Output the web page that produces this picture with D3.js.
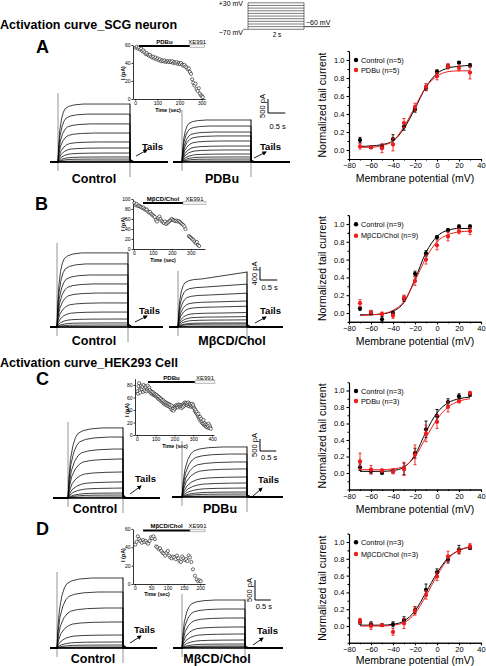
<!DOCTYPE html>
<html><head><meta charset="utf-8">
<script src="https://cdn.jsdelivr.net/npm/d3@7"></script>
<style>body{margin:0;background:#fff;}svg{display:block;font-family:"Liberation Sans",Arial,sans-serif;}</style>
</head><body><script>
// ---------------- DATA ----------------
const protocolSteps = [-70,-60,-50,-40,-30,-20,-10,0,10,20,30];
const holdingMv = -70, tailMv = -60;
const voltages = [-70,-60,-50,-40,-30,-20,-10,0,10,20,30];
const xTicks = [-80,-60,-40,-20,0,20,40];
const xMinor = [-70,-50,-30,-10,10,30];
const yTicks = [0,0.2,0.4,0.6,0.8,1.0];

// Panel A (SCG, PDBu)
const aCtrl    = [0.11,0.03,0.03,0.12,0.26,0.45,0.69,0.87,0.93,0.97,0.94];
const aCtrlErr = [0.03,0.01,0.02,0.05,0.04,0.03,0.03,0.02,0.02,0.01,0.02];
const aPdbu    = [0.04,0.03,0.02,0.06,0.30,0.48,0.70,0.82,0.93,0.91,0.86];
const aPdbuErr = [0.03,0.01,0.05,0.07,0.05,0.04,0.04,0.04,0.03,0.03,0.07];
const aCtrlFit = [0.04,0.045,0.06,0.10,0.24,0.46,0.70,0.85,0.91,0.93,0.94];
const aPdbuFit = [0.03,0.03,0.05,0.10,0.26,0.48,0.70,0.82,0.87,0.88,0.88];
// Panel B (SCG, MbCD/Chol)
const bCtrl    = [0.05,0.00,-0.07,0.00,0.16,0.44,0.67,0.85,0.93,0.97,0.97];
const bCtrlErr = [0.02,0.02,0.03,0.02,0.03,0.03,0.03,0.02,0.02,0.02,0.02];
const bMbcd    = [0.11,0.01,-0.01,-0.03,0.17,0.36,0.60,0.76,0.86,0.92,0.92];
const bMbcdErr = [0.04,0.02,0.02,0.03,0.03,0.05,0.05,0.05,0.05,0.03,0.04];
const bCtrlFit = [-0.02,-0.02,-0.01,0.02,0.12,0.38,0.68,0.86,0.93,0.95,0.95];
const bMbcdFit = [-0.03,-0.02,-0.01,0.03,0.13,0.36,0.62,0.80,0.88,0.91,0.92];
// Panel C (HEK293, PDBu)
const cCtrl    = [0.07,0.02,0.00,0.02,0.05,0.24,0.53,0.69,0.86,0.93,0.95];
const cCtrlErr = [0.04,0.03,0.01,0.02,0.07,0.06,0.10,0.08,0.04,0.03,0.02];
const cPdbu    = [0.14,0.04,0.03,0.02,0.05,0.22,0.48,0.62,0.80,0.87,0.97];
const cPdbuErr = [0.10,0.05,0.02,0.03,0.08,0.12,0.10,0.08,0.06,0.02,0.02];
const cCtrlFit = [0.02,0.02,0.02,0.03,0.07,0.22,0.50,0.73,0.85,0.90,0.92];
const cPdbuFit = [0.04,0.04,0.04,0.05,0.08,0.20,0.43,0.65,0.80,0.87,0.90];
// Panel D (HEK293, MbCD/Chol)
const dCtrl    = [0.05,0.02,0.01,0.02,0.07,0.19,0.43,0.64,0.79,0.91,0.93];
const dCtrlErr = [0.03,0.03,0.01,0.03,0.04,0.04,0.07,0.04,0.04,0.05,0.02];
const dMbcd    = [0.06,0.00,0.01,-0.07,0.03,0.18,0.37,0.59,0.83,0.89,0.95];
const dMbcdErr = [0.03,0.04,0.01,0.04,0.06,0.05,0.05,0.05,0.06,0.03,0.03];
const dCtrlFit = [0.01,0.01,0.01,0.02,0.06,0.18,0.40,0.63,0.81,0.90,0.94];
const dMbcdFit = [0.00,0.00,0.00,0.01,0.04,0.15,0.36,0.60,0.80,0.90,0.94];

const legendA = ["Control (n=5)","PDBu (n=5)"];
const legendB = ["Control (n=9)","M\u03B2CD/Chol (n=9)"];
const legendC = ["Control (n=3)","PDBu (n=3)"];
const legendD = ["Control (n=3)","M\u03B2CD/Chol (n=3)"];

// Current traces: steady-state amplitude of each sweep (pA)
const aCtrlTraces = [2070,1710,1360,1035,715,500,320,180,105,35,0];
const aPdbuTraces = [1500,1285,1070,930,750,570,430,285,180,105,35];
const bCtrlTraces = [2280,1940,1600,1325,1045,740,460,245,125,60,0];
const bMbcdTraces = [1480,1230,985,770,615,430,310,215,125,90,30];
const bMbcdLate   = [1690,1320,1040,800,640,445,320,220,125,90,30];
const cCtrlTraces = [2920,2540,2040,1625,1085,670,415,210,125,40];
const cPdbuTraces = [2085,1790,1460,1170,835,585,375,210,125,40];
const dCtrlTraces = [1750,1400,1000,650,325,150,75,25,0];
const dMbcdTraces = [1200,975,750,525,350,200,100,50,25];
// normalized activation time course (s, fraction) and tail decay
const activationShape = [[0,0],[0.02,0.3],[0.05,0.55],[0.1,0.75],[0.15,0.86],[0.2,0.92],[0.3,0.96],[0.45,0.985],[0.7,1]];
const tailShape = [[0,0.06],[0.04,0.03],[0.1,0.01],[0.25,0]];

// Time courses (sec, pA)
const aTime = [[2,57],[7,58],[12,56],[17,57],[22,55],[27,56],[32,53],[37,54],[42,52],[47,50],[52,51],[57,49],[62,48],[67,49],[72,47],[77,46],[82,47],[87,45],[92,46],[97,44],[102,45],[107,43],[112,44],[117,42],[122,43],[127,42],[132,43],[137,41],[142,42],[147,42],[152,41],[157,42],[162,41],[167,42],[172,40],[177,41],[182,40],[187,41],[192,39],[197,40],[202,39],[207,40],[212,38],[217,37],[222,38],[227,36],[232,35],[237,33],[242,34],[247,30],[252,28],[257,22],[262,18],[267,15],[272,17],[277,11],[282,9],[287,12],[292,6],[297,4],[302,3],[305,2]];
const bTime = [[2,92],[8,88],[14,90],[20,86],[26,87],[32,85],[38,84],[44,82],[50,83],[56,80],[62,78],[68,79],[74,75],[80,73],[86,74],[92,70],[98,68],[104,66],[110,64],[116,58],[122,55],[128,62],[134,65],[140,60],[146,56],[152,54],[158,52],[164,55],[170,50],[176,52],[182,54],[188,56],[194,58],[200,60],[206,58],[212,57],[218,56],[224,57],[230,55],[236,56],[242,54],[248,52],[254,50],[260,48],[266,45],[272,40],[290,26],[296,24],[302,22],[308,20],[314,18],[320,15],[326,12],[332,14],[338,8],[344,6]];
const cTime = [[3,70],[6,66],[9,78],[12,83],[15,72],[18,68],[21,75],[24,79],[27,73],[30,77],[33,69],[36,80],[39,74],[42,71],[45,78],[48,76],[51,70],[54,73],[57,79],[60,74],[63,71],[66,76],[69,72],[72,68],[75,70],[78,66],[81,69],[84,65],[87,68],[90,64],[93,66],[96,63],[99,65],[102,62],[105,64],[108,60],[111,62],[114,58],[117,61],[120,57],[123,59],[126,55],[129,58],[132,54],[135,56],[138,52],[141,55],[144,50],[147,53],[150,49],[153,52],[156,48],[159,51],[162,47],[165,50],[168,46],[171,49],[174,45],[177,48],[180,44],[183,41],[186,47],[189,40],[192,43],[195,39],[198,45],[201,42],[204,46],[207,44],[210,48],[213,45],[216,47],[219,44],[222,49],[225,46],[228,48],[231,45],[234,47],[237,43],[240,46],[243,48],[246,45],[249,50],[252,47],[255,52],[258,49],[261,51],[264,48],[267,50],[270,47],[273,52],[276,49],[279,46],[282,50],[285,48],[288,45],[291,47],[294,50],[297,46],[300,48],[303,44],[306,42],[309,38],[312,40],[315,35],[318,37],[321,33],[324,30],[327,34],[330,28],[333,25],[336,29],[339,23],[342,26],[345,20],[348,22],[351,18],[354,24],[357,16],[360,19],[363,15],[366,17],[369,13],[372,16],[375,12],[378,14],[381,18],[384,11],[387,15],[390,12],[393,10]];
const dTime = [[1,43],[5,46],[9,52],[13,49],[17,47],[21,45],[25,48],[29,46],[33,47],[37,45],[41,44],[45,47],[49,51],[53,50],[57,52],[61,49],[65,41],[69,40],[73,38],[77,39],[81,36],[85,34],[89,33],[93,31],[97,34],[101,36],[105,31],[109,29],[113,28],[117,30],[121,29],[125,27],[129,31],[133,28],[137,25],[141,24],[145,30],[149,28],[153,26],[157,27],[161,25],[165,31],[169,29],[173,24],[178,16],[184,9],[190,5],[194,3],[198,4],[202,3]];
const aDrug = [17,247], aXE = [247,312];
const bDrug = [48,259], bXE = [259,380];
const cDrug = [59,309], cXE = [309,415];
const dDrug = [25,169], dXE = [169,215];

// ---------------- DRAW ----------------
const RED = "#ee1c1c";
const svg = d3.select("body").append("svg").attr("width",486).attr("height",666);

function txt(x,y,s,o={}){
  const t = svg.append("text").attr("x",x).attr("y",y).text(s)
    .attr("font-size",o.size||10).attr("font-weight",o.bold?"bold":"normal")
    .attr("text-anchor",o.anchor||"start").attr("fill",o.fill||"#000");
  if(o.mid) t.attr("dominant-baseline","central");
  if(o.rotate) t.attr("transform",`rotate(-90,${x},${y})`);
  return t;
}

// titles and letters
txt(0,28.5,"Activation curve_SCG neuron",{size:12.5,bold:true});
txt(0,367,"Activation curve_HEK293 Cell",{size:12.5,bold:true});
txt(36,53,"A",{size:18,bold:true});
txt(35,210,"B",{size:18,bold:true});
txt(36,385,"C",{size:18,bold:true});
txt(36,535,"D",{size:18,bold:true});

// protocol
(function(){
  const py = d3.scaleLinear().domain([-70,30]).range([29.3,2.8]);
  const x0=248,x1=304;
  const g = svg.append("g").attr("stroke","#444").attr("stroke-width",0.7).attr("fill","none");
  protocolSteps.forEach(v=>g.append("line").attr("x1",x0).attr("x2",x1).attr("y1",py(v)).attr("y2",py(v)));
  [x0,x1].forEach(xx=>g.append("line").attr("x1",xx).attr("x2",xx).attr("y1",py(d3.min(protocolSteps))).attr("y2",py(d3.max(protocolSteps))));
  g.append("line").attr("x1",243).attr("x2",x0).attr("y1",py(holdingMv)).attr("y2",py(holdingMv));
  g.append("line").attr("x1",x1).attr("x2",330).attr("y1",py(tailMv)).attr("y2",py(tailMv)).attr("stroke-width",1);
  txt(243,3.5,"+30 mV",{size:7,anchor:"end",mid:true});
  txt(243,32.5,"\u221270 mV",{size:7,anchor:"end",mid:true});
  txt(306,22.5,"\u221260 mV",{size:7,mid:true});
  txt(277,34.5,"2 s",{size:6.5,anchor:"middle",mid:true});
})();

// activation charts
function actChart(o){
  const x = d3.scaleLinear().domain([-80,40]).range([349,481]);
  const y = d3.scaleLinear().domain(o.yd).range(o.yr);
  const g = svg.append("g");
  const styleAxis = sel=>{sel.selectAll("path,line").attr("stroke","#000").attr("stroke-width",1.1);
    sel.selectAll("text").attr("font-size",7.5).attr("fill","#000");
    sel.attr("font-family",null).attr("font-size",null);};
  g.append("g").attr("transform",`translate(0,${o.yr[0]})`)
    .call(d3.axisBottom(x).tickValues(xTicks).tickSize(2.5).tickSizeOuter(0).tickPadding(1.5)).call(styleAxis);
  g.append("g").attr("transform",`translate(0,${o.yr[0]})`)
    .call(d3.axisBottom(x).tickValues(xMinor).tickSize(1.5).tickSizeOuter(0).tickFormat("")).call(styleAxis);
  g.append("g").attr("transform",`translate(349,0)`)
    .call(d3.axisLeft(y).tickValues(yTicks).tickSize(2.5).tickSizeOuter(0).tickPadding(2).tickFormat(d3.format(".1f"))).call(styleAxis);
  g.append("g").attr("transform",`translate(349,0)`)
    .call(d3.axisLeft(y).tickValues(o.yMinor).tickSize(1.5).tickSizeOuter(0).tickFormat("")).call(styleAxis);
  const line = d3.line().x((d,i)=>x(voltages[i])).y(d=>y(d)).curve(d3.curveMonotoneX);
  g.append("path").attr("d",line(o.fit0)).attr("fill","none").attr("stroke","#000").attr("stroke-width",1);
  g.append("path").attr("d",line(o.fit1)).attr("fill","none").attr("stroke",RED).attr("stroke-width",1);
  [[o.d0,o.e0,"#000"],[o.d1,o.e1,RED]].forEach(([d,e,c])=>{
    d.forEach((v,i)=>{
      const xx=x(voltages[i]);
      g.append("line").attr("x1",xx).attr("x2",xx).attr("y1",y(v-e[i])).attr("y2",y(v+e[i])).attr("stroke",c).attr("stroke-width",0.9);
      [v-e[i],v+e[i]].forEach(w=>g.append("line").attr("x1",xx-1.5).attr("x2",xx+1.5).attr("y1",y(w)).attr("y2",y(w)).attr("stroke",c).attr("stroke-width",0.9));
      g.append("circle").attr("cx",xx).attr("cy",y(v)).attr("r",2.1).attr("fill",c);
    });
  });
  // legend
  [["#000",o.leg[0],o.legY[0]],[RED,o.leg[1],o.legY[1]]].forEach(([c,s,yy])=>{
    g.append("circle").attr("cx",356).attr("cy",yy).attr("r",2.2).attr("fill",c);
    txt(361,yy,s,{size:7.3,mid:true});
  });
  txt(415,o.yr[0]+o.tdy,"Membrane potential (mV)",{size:10.5,anchor:"middle",mid:true});
  txt(322,(o.yr[0]+o.yr[1])/2,"Normalized tail current",{size:10.5,anchor:"middle",mid:true,rotate:true});
}
actChart({yd:[-0.1,1.1],yr:[159,51],tdy:19,yMinor:[-0.1,0.1,0.3,0.5,0.7,0.9,1.1],d0:aCtrl,e0:aCtrlErr,d1:aPdbu,e1:aPdbuErr,fit0:aCtrlFit,fit1:aPdbuFit,leg:legendA,legY:[60,70]});
actChart({yd:[-0.1,1.1],yr:[321.9,215.1],tdy:19,yMinor:[-0.1,0.1,0.3,0.5,0.7,0.9,1.1],d0:bCtrl,e0:bCtrlErr,d1:bMbcd,e1:bMbcdErr,fit0:bCtrlFit,fit1:bMbcdFit,leg:legendB,legY:[224.3,235.7]});
actChart({yd:[-0.2,1.1],yr:[489.5,382.25],tdy:19,yMinor:[-0.2,-0.1,0.1,0.3,0.5,0.7,0.9,1.1],d0:cCtrl,e0:cCtrlErr,d1:cPdbu,e1:cPdbuErr,fit0:cCtrlFit,fit1:cPdbuFit,leg:legendC,legY:[391,401]});
actChart({yd:[-0.2,1.1],yr:[642.8,533.6],tdy:16.8,yMinor:[-0.2,-0.1,0.1,0.3,0.5,0.7,0.9,1.1],d0:dCtrl,e0:dCtrlErr,d1:dMbcd,e1:dMbcdErr,fit0:dCtrlFit,fit1:dMbcdFit,leg:legendD,legY:[542.3,554]});

// inset time courses
function inset(o){
  const x = d3.scaleLinear().domain(o.xd).range(o.xr);
  const y = d3.scaleLinear().domain(o.yd).range(o.yr);
  const g = svg.append("g");
  const st = sel=>{sel.selectAll("path,line").attr("stroke","#000").attr("stroke-width",0.8);
    sel.selectAll("text").attr("font-size",5).attr("fill","#000");sel.attr("font-family",null).attr("font-size",null);};
  g.append("g").attr("transform",`translate(0,${o.yr[0]})`)
    .call(d3.axisBottom(x).tickValues(o.xt).tickSize(1.5).tickSizeOuter(0).tickPadding(1).tickFormat(d3.format("d"))).call(st);
  g.append("g").attr("transform",`translate(${o.xr[0]},0)`)
    .call(d3.axisLeft(y).tickValues(o.yt).tickSize(1.5).tickSizeOuter(0).tickPadding(1).tickFormat(d3.format("d"))).call(st);
  o.data.forEach(([t,v])=>g.append("circle").attr("cx",x(t)).attr("cy",y(v)).attr("r",1.6)
    .attr("fill","#fff").attr("stroke","#000").attr("stroke-width",0.55));
  g.append("rect").attr("x",x(o.drug[0])).attr("y",o.barY-1).attr("width",x(o.drug[1])-x(o.drug[0])).attr("height",2).attr("fill","#000");
  g.append("rect").attr("x",x(o.xe[0])).attr("y",o.barY-1.3).attr("width",x(o.xe[1])-x(o.xe[0])).attr("height",2.6)
    .attr("fill","#f2f2f2").attr("stroke","#999").attr("stroke-width",0.6);
  txt((x(o.drug[0])+x(o.drug[1]))/2,o.barY-4.5,o.drugName,{size:6,bold:true,anchor:"middle",mid:true});
  txt((x(o.xe[0])+x(o.xe[1]))/2,o.barY-4.5,"XE991",{size:6,anchor:"middle",mid:true});
  txt(o.tl[0],o.tl[1],"Time (sec)",{size:5.2,bold:true,anchor:"middle",mid:true});
  txt(o.il[0],o.il[1],"I (pA)",{size:5.4,bold:true,anchor:"middle",mid:true,rotate:true});
}
inset({xd:[-10,315],xr:[133,205],yd:[0,60],yr:[99,45],xt:[0,100,200,300],yt:[0,20,40,60],data:aTime,drug:aDrug,xe:aXE,barY:46,drugName:"PDBu",tl:[168,109.5],il:[123,73]});
inset({xd:[-5,375],xr:[133,205],yd:[0,100],yr:[249,199],xt:[0,100,200,300],yt:[0,20,40,60,80,100],data:bTime,drug:bDrug,xe:bXE,barY:203,drugName:"M\u03B2CD/Chol",tl:[163,259.5],il:[123,224]});
inset({xd:[-10,410],xr:[135,214],yd:[0,90],yr:[435,378.75],xt:[0,100,200,300,400],yt:[0,20,40,60,80],data:cTime,drug:cDrug,xe:cXE,barY:382,drugName:"PDBu",tl:[175,445.5],il:[127,410]});
inset({xd:[-6,215],xr:[133,205],yd:[0,60],yr:[584,529],xt:[0,50,100,150,200],yt:[0,20,40,60],data:dTime,drug:dDrug,xe:dXE,barY:530.5,drugName:"M\u03B2CD/Chol",tl:[157,593.5],il:[123,555]});

// current trace families
function tracePanel(o){
  const x = d3.scaleLinear().domain([0,2]).range([o.on,o.off]);
  const y = d3.scaleLinear().domain([0,o.barPA]).range([o.base,o.base-o.barPx]);
  const g = svg.append("g");
  const line = d3.line().x(d=>x(d[0])).y(d=>y(d[1]));
  const maxL = d3.max(o.levels), maxLate = d3.max(o.late||o.levels);
  g.append("line").attr("x1",o.on).attr("x2",o.on).attr("y1",y(maxL)-o.tTop).attr("y2",o.base+9).attr("stroke","#888").attr("stroke-width",0.9);
  g.append("line").attr("x1",o.off).attr("x2",o.off).attr("y1",y(maxLate)-1).attr("y2",o.base+15).attr("stroke","#888").attr("stroke-width",0.9);
  const n=o.levels.length;
  o.levels.forEach((L,i)=>{
    const late = o.late? o.late[i] : L;
    const stretch = o.kin*(1+1.5*i/(n-1));
    const pts=[[x.invert(o.left),0],[0,0]];
    activationShape.forEach(([t,f])=>{const tt=t*stretch; if(tt>0 && tt<2) pts.push([tt,L*f]);});
    pts.push([2,late]);
    tailShape.forEach(([t,f])=>pts.push([2+t,late*f]));
    pts.push([x.invert(o.right),0]);
    g.append("path").attr("d",line(pts)).attr("fill","none").attr("stroke","#000").attr("stroke-width",0.75);
  });
  g.append("line").attr("x1",o.left).attr("x2",o.right).attr("y1",o.base).attr("y2",o.base).attr("stroke","#000").attr("stroke-width",1.6);
  txt(o.tails[0],o.tails[1],"Tails",{size:9.5,bold:true});
  g.append("line").attr("x1",o.arrow[0]).attr("y1",o.arrow[1]).attr("x2",o.arrow[2]).attr("y2",o.arrow[3])
    .attr("stroke","#000").attr("stroke-width",0.9).attr("marker-end","url(#ah)");
  txt(o.label[0],o.label[1],o.name,{size:12.5,bold:true,anchor:"middle"});
  return {x,y};
}
svg.append("defs").append("marker").attr("id","ah").attr("viewBox","0 0 10 10").attr("refX",8).attr("refY",5)
  .attr("markerWidth",5).attr("markerHeight",5).attr("orient","auto")
  .append("path").attr("d","M0,0L10,5L0,10z").attr("fill","#000");

function scaleBar(s,o){
  const h = s.y(0)-s.y(o.pa), w = s.x(0.5)-s.x(0);
  const g = svg.append("g").attr("stroke","#000").attr("stroke-width",1);
  g.append("line").attr("x1",o.x).attr("x2",o.x).attr("y1",o.yb-h).attr("y2",o.yb);
  g.append("line").attr("x1",o.x).attr("x2",o.x+w).attr("y1",o.yb).attr("y2",o.yb);
  txt(o.x-6,o.yb-h/2,o.pa+" pA",{size:7.5,anchor:"middle",mid:true,rotate:true});
  txt(o.x+w/2+1,o.yb+o.sdy,"0.5 s",{size:7.5,anchor:"middle",mid:true});
}

// A
tracePanel({on:58,off:130,left:50,right:168,base:162,barPA:500,barPx:14,kin:1,tTop:11,levels:aCtrlTraces,tails:[142,149.5],arrow:[136,156,147,150],label:[94,182.5],name:"Control"});
const sA = tracePanel({on:182,off:251,left:173,right:290,base:162,barPA:500,barPx:14,kin:1,tTop:10,levels:aPdbuTraces,tails:[260,149.5],arrow:[254,158,266,152],label:[222,182.5],name:"PDBu"});
scaleBar(sA,{x:268,yb:113,pa:500,sdy:13});
// B
tracePanel({on:57,off:128,left:50,right:163,base:327,barPA:400,barPx:13,kin:1,tTop:10,levels:bCtrlTraces,tails:[139,313.5],arrow:[135,322,147,316],label:[94,344.5],name:"Control"});
const sB = tracePanel({on:178,off:247,left:169,right:283,base:327,barPA:400,barPx:13,kin:1,tTop:8,levels:bMbcdTraces,late:bMbcdLate,tails:[260,313.5],arrow:[255,323,266,317],label:[232,344.5],name:"M\u03B2CD/Chol"});
scaleBar(sB,{x:260,yb:280,pa:400,sdy:7});
// C
tracePanel({on:68,off:123,left:53,right:160,base:498,barPA:500,barPx:12,kin:1.8,tTop:6,levels:cCtrlTraces,tails:[135,481.5],arrow:[130,494,141,486],label:[95,512.5],name:"Control"});
const sC = tracePanel({on:182,off:247,left:172,right:283,base:497,barPA:500,barPx:12,kin:1.8,tTop:6,levels:cPdbuTraces,tails:[258,482.5],arrow:[252,497,262,488],label:[220,512.5],name:"PDBu"});
scaleBar(sC,{x:260,yb:451,pa:500,sdy:6});
// D
tracePanel({on:57,off:123,left:50,right:157,base:648,barPA:500,barPx:20,kin:1.5,tTop:6,levels:dCtrlTraces,tails:[134,632.5],arrow:[130,643,141,636],label:[93,662.5],name:"Control"});
const sD = tracePanel({on:182,off:245,left:173,right:283,base:648,barPA:500,barPx:20,kin:1.5,tTop:6,levels:dMbcdTraces,tails:[257,633.5],arrow:[253,645,263,638],label:[217,662.5],name:"M\u03B2CD/Chol"});
scaleBar(sD,{x:255,yb:600,pa:500,sdy:6});
</script></body></html>
